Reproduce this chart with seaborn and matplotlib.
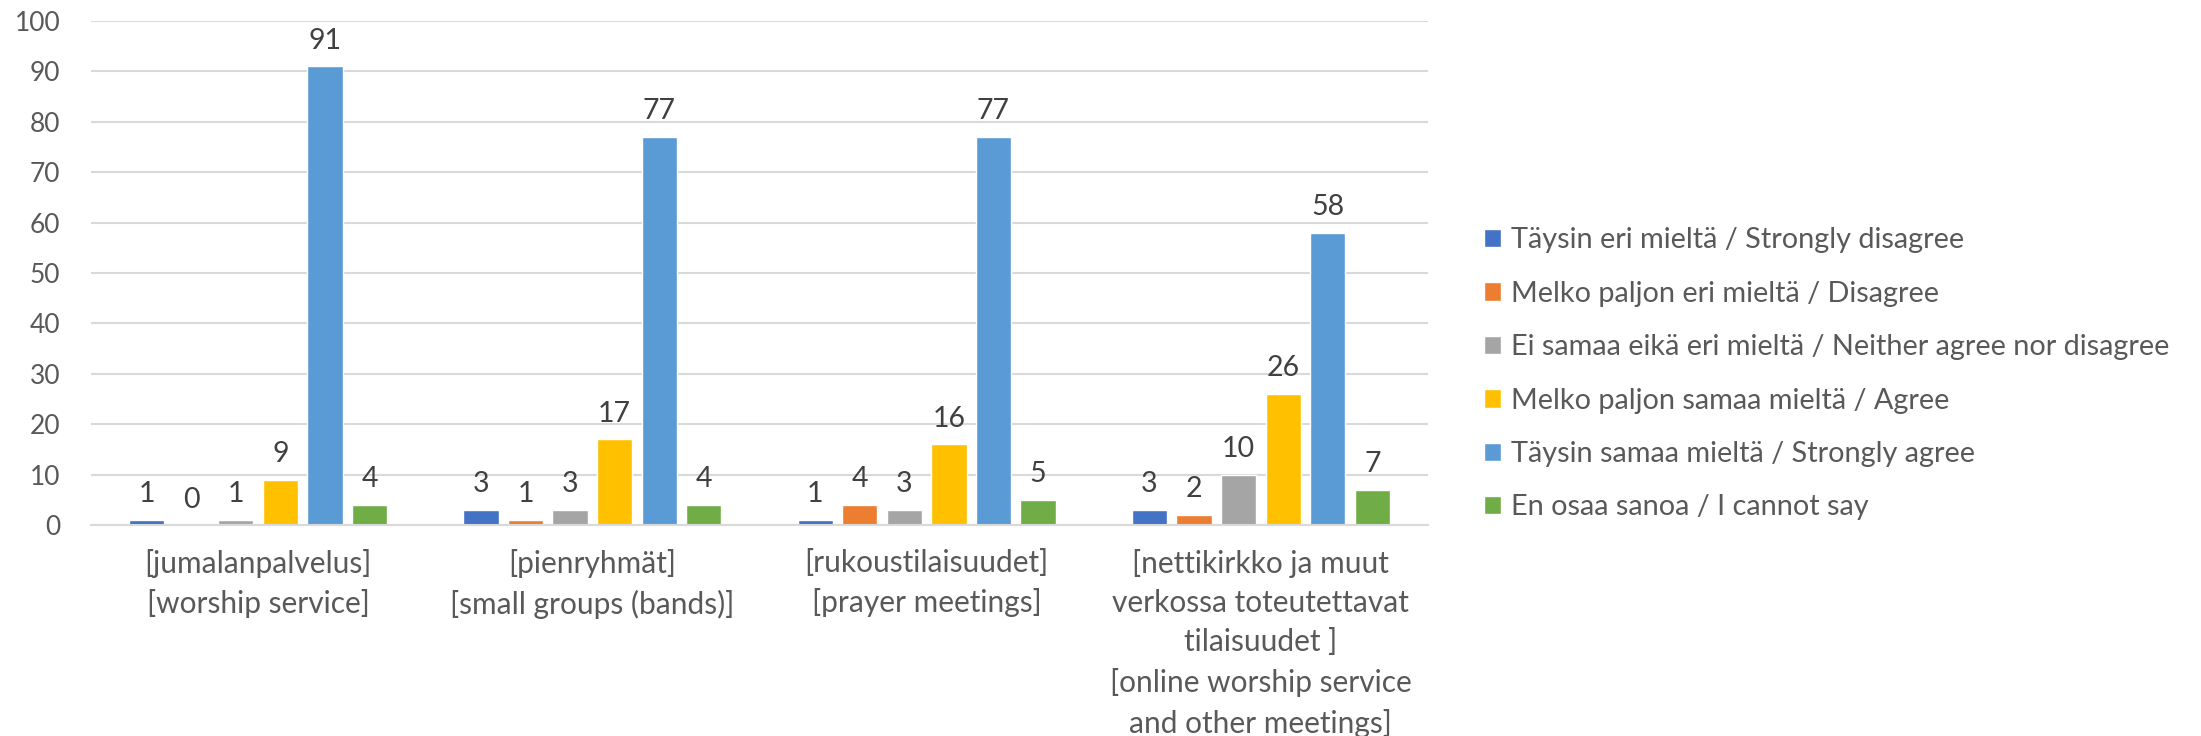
import matplotlib
matplotlib.use("Agg")
import matplotlib.pyplot as plt
import seaborn as sns
import pandas as pd

# categories (x axis) and answer options (hue)
groups = [
    "[jumalanpalvelus]\n[worship service]",
    "[pienryhmät]\n[small groups (bands)]",
    "[rukoustilaisuudet]\n[prayer meetings]",
    "[nettikirkko ja muut\nverkossa toteutettavat\ntilaisuudet ]\n[online worship service\nand other meetings]",
]
answers = [
    "Täysin eri mieltä / Strongly disagree",
    "Melko paljon eri mieltä / Disagree",
    "Ei samaa eikä eri mieltä / Neither agree nor disagree",
    "Melko paljon samaa mieltä / Agree",
    "Täysin samaa mieltä / Strongly agree",
    "En osaa sanoa / I cannot say",
]
strongly_disagree = [1, 3, 1, 3]
disagree = [0, 1, 4, 2]
neutral = [1, 3, 3, 10]
agree = [9, 17, 16, 26]
strongly_agree = [91, 77, 77, 58]
cannot_say = [4, 4, 5, 7]

colors = ["#4472C4", "#ED7D31", "#A5A5A5", "#FFC000", "#5B9BD5", "#70AD47"]
text_col = "#595959"

series = [strongly_disagree, disagree, neutral, agree, strongly_agree, cannot_say]
rows = []
for ans, vals in zip(answers, series):
    for g, v in zip(groups, vals):
        rows.append({"group": g, "answer": ans, "value": v})
df = pd.DataFrame(rows)

sns.set_style("white")
plt.rcParams["font.family"] = ["Lato", "DejaVu Sans"]

fig = plt.figure(figsize=(22.01, 7.36), dpi=100)
ax = fig.add_axes([91 / 2201, 211 / 736, (1428 - 91) / 2201, 504 / 736])

sns.barplot(data=df, x="group", y="value", hue="answer", hue_order=answers,
            order=groups, palette=colors, width=0.8, gap=0.21, saturation=1,
            ax=ax, errorbar=None)

for c in ax.containers:
    ax.bar_label(c, fmt="%d", padding=9, fontsize=20.5, color="#404040")

ax.set_ylim(0, 100)
ax.set_xlim(-0.5, 3.5)
ax.set_yticks(range(0, 101, 10))
ax.yaxis.grid(True, color="#D9D9D9", linewidth=1.5)
ax.set_axisbelow(True)
for s in ["top", "right", "left"]:
    ax.spines[s].set_visible(False)
ax.spines["bottom"].set_color("#D9D9D9")
ax.spines["bottom"].set_linewidth(1.5)
ax.tick_params(axis="y", length=0, labelsize=19, labelcolor=text_col, pad=22)
ax.tick_params(axis="x", length=0, labelsize=21.5, labelcolor=text_col, pad=17)
for lbl in ax.get_xticklabels():
    lbl.set_linespacing(1.49)
ax.set_xlabel("")
ax.set_ylabel("")

handles, labels = ax.get_legend_handles_labels()
ax.get_legend().remove()
fig.legend(handles, labels, loc="center left", bbox_to_anchor=(1458 / 2201, 0.492),
           frameon=False, fontsize=20.8, labelcolor=text_col, handlelength=0.6,
           handleheight=0.6, handletextpad=0.35, labelspacing=0.95)

fig.savefig("out.png", dpi=100)
